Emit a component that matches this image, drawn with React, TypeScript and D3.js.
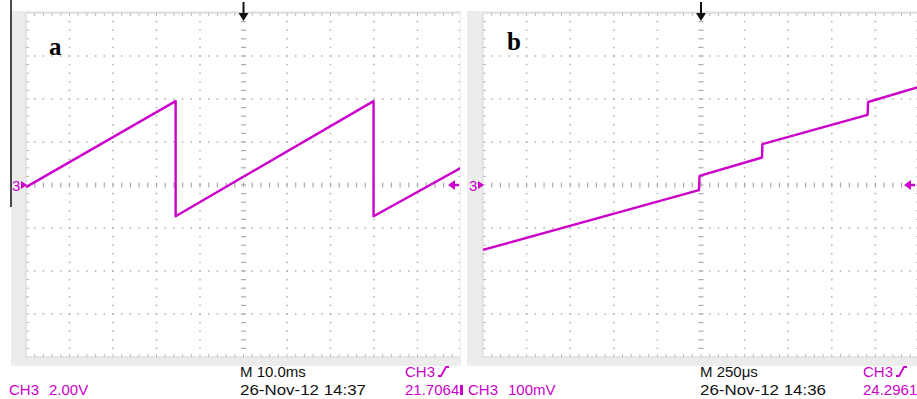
import * as d3 from "d3"

// panel a: sawtooth, 10 ms/div, 2 V/div
const sawTime = [-50, -15.6, -15.6, 29.9, 29.9, 50]
const sawVolt = [-0.1, 3.9, -1.45, 3.9, -1.45, 0.8]

// panel b: stepped ramp, 250 us/div, 100 mV/div
const rampTime = [-1250, -12, -8, 350, 352, 955, 958, 1250]
const rampMv = [-151, -12, 21, 64, 95, 163, 193, 228]

const W = 917
const H = 399
const MAGENTA = "#cc00cc"
const TOP = 13
const BOTTOM = 357

const xA = d3.scaleLinear().domain([-50, 50]).range([26, 461])
const yA = d3.scaleLinear().domain([-8, 8]).range([BOTTOM, TOP])
const xB = d3.scaleLinear().domain([-1250, 1250]).range([483, 919])
const yB = d3.scaleLinear().domain([-400, 400]).range([BOTTOM, TOP])

type Scale = d3.ScaleLinear<number, number>

function Grid({ x, y }: { x: Scale; y: Scale }) {
  const [x0, x1] = x.range()
  const [y1, y0] = y.range()
  const dx = (x1 - x0) / 50
  const dy = (y1 - y0) / 40
  const minorX = d3.range(1, 50).map(i => x0 + i * dx)
  const minorY = d3.range(1, 40).map(i => y0 + i * dy)
  const els: JSX.Element[] = []
  // dotted gridlines
  d3.range(1, 10).filter(i => i !== 5).forEach(i => {
    const gx = x0 + i * 5 * dx
    minorY.forEach((py, k) => els.push(<rect key={`v${i}-${k}`} x={gx - 0.75} y={py - 0.75} width={1.5} height={1.5} fill="#b0b0b0" />))
  })
  d3.range(1, 8).filter(j => j !== 4).forEach(j => {
    const gy = y0 + j * 5 * dy
    minorX.forEach((px, k) => els.push(<rect key={`h${j}-${k}`} x={px - 0.75} y={gy - 0.75} width={1.5} height={1.5} fill="#b0b0b0" />))
  })
  // centre axes
  const cx = x0 + 25 * dx
  const cy = y0 + 20 * dy
  minorY.forEach((py, k) => els.push(<line key={`cy${k}`} x1={cx - 2.5} x2={cx + 2.5} y1={py} y2={py} stroke="#aaa" strokeWidth={1.2} />))
  minorX.forEach((px, k) => els.push(<line key={`cx${k}`} x1={px} x2={px} y1={cy - 2.5} y2={cy + 2.5} stroke="#aaa" strokeWidth={1.2} />))
  // border ticks
  minorX.forEach((px, k) => {
    els.push(<line key={`bt${k}`} x1={px} x2={px} y1={y0} y2={y0 + 3} stroke="#bbb" />)
    els.push(<line key={`bb${k}`} x1={px} x2={px} y1={y1} y2={y1 - 3} stroke="#bbb" />)
  })
  minorY.forEach((py, k) => {
    els.push(<line key={`bl${k}`} x1={x0} x2={x0 + 3} y1={py} y2={py} stroke="#bbb" />)
    els.push(<line key={`br${k}`} x1={x1} x2={x1 - 3} y1={py} y2={py} stroke="#bbb" />)
  })
  return (
    <g>
      <rect x={x0} y={y0} width={x1 - x0} height={y1 - y0} fill="#fff" stroke="#d4d4d4" />
      {els}
    </g>
  )
}

function Markers({ x, y, label, lx, ly }: { x: Scale; y: Scale; label: string; lx: number; ly: number }) {
  const [x0, x1] = x.range()
  const cx = x(0)
  const cy = y(0)
  const tx = Math.min(x1, W) - 4
  return (
    <g>
      <text x={x0 - 14} y={cy + 5.5} fill={MAGENTA} fontSize={15} fontFamily="Liberation Sans, Arial, sans-serif">3</text>
      <path d={`M${x0 - 5},${cy - 4} L${x0 + 1},${cy} L${x0 - 5},${cy + 4} Z`} fill={MAGENTA} />
      <path d={`M${tx - 9},${cy} L${tx - 2},${cy - 5} L${tx - 2},${cy + 5} Z M${tx - 3},${cy - 1.2} h5 v2.4 h-5 Z`} fill={MAGENTA} />
      <line x1={cx} x2={cx} y1={2} y2={16} stroke="#111" strokeWidth={2} />
      <path d={`M${cx - 5},${13} L${cx + 5},${13} L${cx},${21} Z`} fill="#111" />
      <text x={lx} y={ly} fontSize={25} fontWeight="bold" fontFamily="Liberation Serif, Times New Roman, serif">{label}</text>
    </g>
  )
}

function Trace({ x, y, xs, ys }: { x: Scale; y: Scale; xs: number[]; ys: number[] }) {
  const line = d3.line<number>().x((_, i) => x(xs[i])).y(d => y(d))
  return <path d={line(ys) ?? ""} fill="none" stroke={MAGENTA} strokeWidth={2.4} strokeLinejoin="round" />
}

const SANS = "Liberation Sans, Arial, sans-serif"

function Readout({ left, mid, right, scaleLabel, time, date, value, clipId }: {
  left: number; mid: number; right: number; scaleLabel: string; time: string; date: string; value: string; clipId: string
}) {
  return (
    <g fontFamily={SANS} fontSize={15} clipPath={`url(#${clipId})`}>
      <text x={left} y={395} fill={MAGENTA}>CH3</text>
      <text x={left + 40} y={395} fill={MAGENTA}>{scaleLabel}</text>
      <text x={mid} y={377} fill="#111">{time}</text>
      <text x={mid} y={395} fill="#111" textLength={126} lengthAdjust="spacingAndGlyphs">{date}</text>
      <text x={right} y={377} fill={MAGENTA}>CH3</text>
      <path d={`M${right + 33},${376} h3 l5,-9 h3`} fill="none" stroke={MAGENTA} strokeWidth={1.8} />
      <text x={right} y={395} fill={MAGENTA}>{value}</text>
    </g>
  )
}

export default function App() {
  return (
    <svg width={W} height={H} style={{ position: "absolute", left: 0, top: 0, background: "#fff" }}>
      <defs>
        <clipPath id="clipA"><rect x={0} y={0} width={460} height={H} /></clipPath>
        <clipPath id="clipB"><rect x={462} y={0} width={W - 462} height={H} /></clipPath>
      </defs>
      <rect x={0} y={0} width={W} height={H} fill="#fff" />
      {/* grey bezels */}
      <rect x={11} y={11} width={450} height={355} fill="#ececec" />
      <rect x={467} y={11} width={W - 467} height={355} fill="#ececec" />
      <line x1={11} x2={11} y1={0} y2={207} stroke="#111" strokeWidth={1.5} />
      <g clipPath="url(#clipA)">
        <Grid x={xA} y={yA} />
        <Trace x={xA} y={yA} xs={sawTime} ys={sawVolt} />
        <Markers x={xA} y={yA} label="a" lx={49} ly={55} />
      </g>
      <g clipPath="url(#clipB)">
        <Grid x={xB} y={yB} />
        <Trace x={xB} y={yB} xs={rampTime} ys={rampMv} />
        <Markers x={xB} y={yB} label="b" lx={507} ly={50} />
      </g>
      <Readout left={9} mid={240} right={405} scaleLabel="2.00V" time="M 10.0ms" date="26-Nov-12 14:37" value="21.7064" clipId="clipA" />
      <rect x={460} y={385} width={3} height={10} fill={MAGENTA} />
      <Readout left={468} mid={700} right={863} scaleLabel="100mV" time="M 250μs" date="26-Nov-12 14:36" value="24.2961" clipId="clipB" />
    </svg>
  )
}
